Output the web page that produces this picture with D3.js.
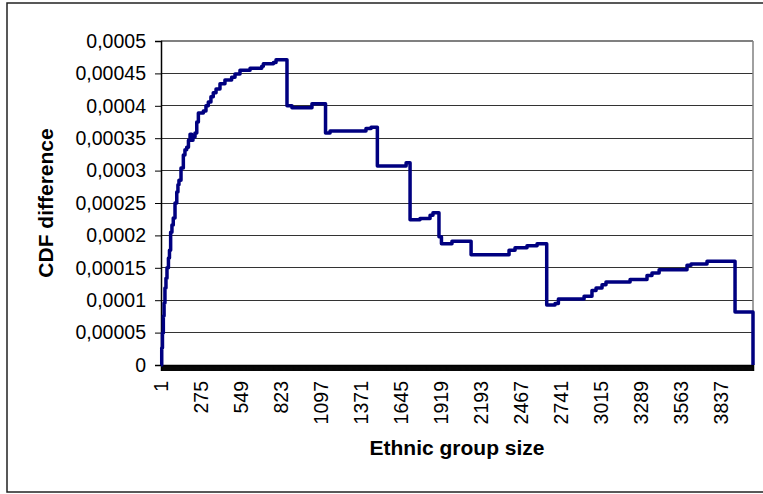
<!DOCTYPE html>
<html>
<head>
<meta charset="utf-8">
<script src="https://cdn.jsdelivr.net/npm/d3@7"></script>
<style>
  body { margin: 0; background: #fff; }
  text { font-family: "Liberation Sans", Arial, sans-serif; }
</style>
</head>
<body>
<div id="chart"></div>
<script>
// number of categories on the x axis (ethnic group sizes 1..N)
var groupCount = 4056;

// step breakpoints: from this group size on, the curve has this value
var groupSizes = [1, 6, 11, 17, 22, 28, 35, 42, 52, 59, 67, 76, 85, 97, 109, 117, 124, 138,
  154, 165, 177, 189, 200, 211, 220, 234, 246, 257, 291, 309, 325, 343, 359, 378, 405, 439,
  485, 508, 542, 611, 691, 702, 771, 789, 864, 898, 1035, 1128, 1159, 1405, 1440, 1483,
  1680, 1707, 1775, 1844, 1864, 1905, 1922, 1994, 2125, 2385, 2426, 2508, 2577, 2643, 2700,
  2723, 2899, 2953, 2981, 3022, 3049, 3214, 3330, 3364, 3413, 3604, 3632, 3741, 3933, 4056];

var cdfDiff = [0, 0.0000262, 0.0000494, 0.0000756, 0.0000957, 0.000119, 0.000134, 0.00015,
  0.000165, 0.000177, 0.000205, 0.000216, 0.000227, 0.00025, 0.000267, 0.000278, 0.000285,
  0.000304, 0.000324, 0.000332, 0.000336, 0.000347, 0.000356, 0.000347, 0.000352, 0.000358,
  0.000375, 0.000389, 0.000392, 0.0004, 0.000406, 0.000414, 0.00042, 0.000426, 0.000434,
  0.00044, 0.000444, 0.000449, 0.000455, 0.000458, 0.000461, 0.000465, 0.000467, 0.000471,
  0.0004, 0.000397, 0.000403, 0.000358, 0.000361, 0.000365, 0.000367, 0.000307, 0.000312,
  0.000224, 0.000226, 0.000231, 0.000235, 0.000198, 0.000187, 0.000191, 0.00017, 0.000177,
  0.000181, 0.000184, 0.000187, 0.0000926, 0.0000949, 0.000102, 0.000106, 0.000115,
  0.000119, 0.000124, 0.000128, 0.000132, 0.000138, 0.000142, 0.000147, 0.000154, 0.000156,
  0.00016, 0.0000818, 0];

var xTickLabels = [1, 275, 549, 823, 1097, 1371, 1645, 1919, 2193, 2467, 2741, 3015, 3289, 3563, 3837];
var yTicks = [0, 0.00005, 0.0001, 0.00015, 0.0002, 0.00025, 0.0003, 0.00035, 0.0004, 0.00045, 0.0005];

var W = 763, H = 494;
var plot = { left: 161, right: 753, top: 41, bottom: 365 };

var svg = d3.select("#chart").append("svg")
  .attr("width", W)
  .attr("height", H);

// outer chart border
svg.append("rect")
  .attr("x", 7).attr("y", 3)
  .attr("width", W + 10).attr("height", 489)
  .attr("fill", "none")
  .attr("stroke", "#222")
  .attr("stroke-width", 1.5);

var x = d3.scaleLinear().domain([1, groupCount]).range([plot.left, plot.right]);
var y = d3.scaleLinear().domain([0, 0.0005]).range([plot.bottom, plot.top]);

var fmt = function(d) { return String(d).replace(".", ","); };

// gridlines
svg.append("g")
  .selectAll("line")
  .data(yTicks.slice(1))
  .enter()
  .append("line")
  .attr("x1", plot.left).attr("x2", plot.right)
  .attr("y1", function(d) { return y(d); })
  .attr("y2", function(d) { return y(d); })
  .attr("stroke", function(d, i) { return i == yTicks.length - 2 ? "#808080" : "#333"; })
  .attr("stroke-width", function(d, i) { return i == yTicks.length - 2 ? 1.5 : 1; })
  .attr("shape-rendering", "crispEdges");

// right border of plot area
svg.append("line")
  .attr("x1", plot.right).attr("x2", plot.right)
  .attr("y1", plot.top).attr("y2", plot.bottom)
  .attr("stroke", "#808080")
  .attr("stroke-width", 1.5);

// y axis
var yAxis = svg.append("g")
  .attr("transform", "translate(" + plot.left + ",0)")
  .call(d3.axisLeft(y).tickValues(yTicks).tickFormat(fmt).tickSize(6).tickPadding(9));
yAxis.select(".domain").attr("stroke", "#000").attr("stroke-width", 1.5);
yAxis.selectAll(".tick line").attr("stroke", "#000");
yAxis.selectAll("text")
  .attr("font-size", "19.5px")
  .attr("fill", "#000")
  .attr("font-family", "Liberation Sans, Arial, sans-serif");

// x axis: a tick for every category makes the dense black band
var xAxisTicks = svg.append("g")
  .attr("transform", "translate(0," + plot.bottom + ")")
  .call(d3.axisBottom(x).tickValues(d3.range(1, groupCount + 1)).tickFormat("").tickSize(6));
xAxisTicks.select(".domain").attr("stroke", "#000").attr("stroke-width", 1.5);
xAxisTicks.selectAll(".tick line").attr("stroke", "#000").attr("stroke-width", 0.4);

var xAxis = svg.append("g")
  .attr("transform", "translate(0," + plot.bottom + ")")
  .call(d3.axisBottom(x).tickValues(xTickLabels).tickSize(0).tickFormat(d3.format("d")));
xAxis.select(".domain").remove();
xAxis.selectAll("text")
  .attr("font-size", "19.5px")
  .attr("fill", "#000")
  .attr("font-family", "Liberation Sans, Arial, sans-serif")
  .attr("text-anchor", "end")
  .attr("transform", "rotate(-90)")
  .attr("x", -16)
  .attr("y", 0)
  .attr("dy", "0.35em");

// the series
var line = d3.line()
  .x(function(d) { return x(d[0]); })
  .y(function(d) { return y(d[1]); })
  .curve(d3.curveStepAfter);

svg.append("path")
  .datum(groupSizes.map(function(g, i) { return [g, cdfDiff[i]]; }))
  .attr("d", line)
  .attr("fill", "none")
  .attr("stroke", "#000080")
  .attr("stroke-width", 3.5)
  .attr("stroke-linejoin", "round");

// axis titles
svg.append("text")
  .attr("x", (plot.left + plot.right) / 2)
  .attr("y", 455)
  .attr("text-anchor", "middle")
  .attr("font-size", "21px")
  .attr("font-weight", "bold")
  .text("Ethnic group size");

svg.append("text")
  .attr("transform", "translate(53," + (plot.top + plot.bottom) / 2 + ") rotate(-90)")
  .attr("text-anchor", "middle")
  .attr("font-size", "21px")
  .attr("font-weight", "bold")
  .text("CDF difference");
</script>
</body>
</html>
